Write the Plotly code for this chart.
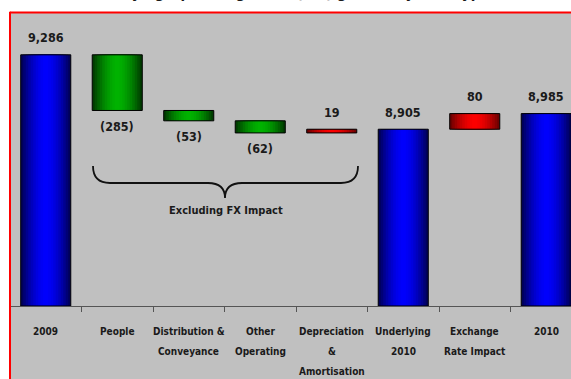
import plotly.graph_objects as go

# ---------------- data ----------------
categories = ["2009", "People", "Distribution & Conveyance", "Other Operating",
              "Depreciation & Amortisation", "Underlying 2010",
              "Exchange Rate Impact", "2010"]
category_lines = [["2009"], ["People"], ["Distribution &", "Conveyance"],
                  ["Other", "Operating"], ["Depreciation", "&", "Amortisation"],
                  ["Underlying", "2010"], ["Exchange", "Rate Impact"], ["2010"]]
values = [9286, -285, -53, -62, 19, 8905, 80, 8985]
kinds = ["total", "delta", "delta", "delta", "delta", "total", "delta", "total"]
value_labels = ["9,286", "(285)", "(53)", "(62)", "19", "8,905", "80", "8,985"]
title_text = "Underlying Operating Costs (£m) growth by cost type"
brace_text = "Excluding FX Impact"

# ---------------- geometry helpers ----------------
W, H = 571, 379
ML, MT, MR, MB = 10, 13, 0, 73
PW, PH = W - ML - MR, H - MT - MB
def px(x):
    return (x - ML) / PW
def py(y):
    return (H - MB - y) / PH

FONT = "DejaVu Sans Condensed, DejaVu Sans, sans-serif"
TXT = "#1a1a1a"

# compute floating bars
bases, heights, tops, bottoms = [], [], [], []
running = 0
for v, k in zip(values, kinds):
    if k == "total":
        b, h = 8000, v - 8000
        running = v
    else:
        b, h = running, v
        running += v
    bases.append(b)
    heights.append(h)
    tops.append(max(b, b + h))
    bottoms.append(min(b, b + h))

palette = {
    "blue": ((0, 0, 90), (0, 0, 255)),
    "green": ((0, 60, 0), (0, 180, 0)),
    "red": ((110, 0, 0), (255, 0, 0)),
}
def bar_color(v, k):
    if k == "total":
        return "blue"
    return "green" if v < 0 else "red"
col_names = [bar_color(v, k) for v, k in zip(values, kinds)]
idx = list(range(len(categories)))

fig = go.Figure()
BW = 0.70
N = 10
for i in range(N):
    f = 1 - i / N
    t = max(0.0, 1 - f ** 1.8)
    cols = []
    for c in col_names:
        e, m = palette[c]
        cols.append("rgb(%d,%d,%d)" % tuple(int(e[j] + (m[j] - e[j]) * t) for j in range(3)))
    fig.add_trace(go.Bar(x=categories, y=heights, base=bases, width=BW * f,
                         marker=dict(color=cols, line=dict(width=0)),
                         hoverinfo="skip", showlegend=False))
# outline
fig.add_trace(go.Bar(x=categories, y=heights, base=bases, width=BW,
                     marker=dict(color="rgba(0,0,0,0)", line=dict(color="#000", width=1)),
                     hoverinfo="skip", showlegend=False))

annotations = []
for i, lab, v, k, t, b in zip(idx, value_labels, values, kinds, tops, bottoms):
    below = (k == "delta" and v < 0)
    annotations.append(dict(x=i, y=b if below else t, xref="x", yref="y", text=lab,
                            showarrow=False, yshift=-16 if below else 17, yanchor="middle",
                            font=dict(family=FONT, size=12.5, color=TXT, weight="bold")))
line_ys = [331, 351, 371]
for i, lines in zip(idx, category_lines):
    for j, ln in enumerate(lines):
        annotations.append(dict(x=i, y=py(line_ys[j]), xref="x", yref="paper", text=ln,
                                showarrow=False, yanchor="middle",
                                font=dict(family=FONT, size=10, color=TXT, weight="bold")))
annotations.append(dict(x=px(226), y=py(210), xref="paper", yref="paper", text=brace_text,
                        showarrow=False, yanchor="middle",
                        font=dict(family=FONT, size=11, color=TXT, weight="bold")))
annotations.append(dict(x=px(285), y=py(4), xref="paper", yref="paper", text=title_text,
                        showarrow=False, yanchor="bottom",
                        font=dict(family=FONT, size=15, color=TXT, weight="bold")))

def P(x, y):
    return "%.5f,%.5f" % (px(x), py(y))
brace = ("M " + P(93, 166) + " Q " + P(93, 183) + " " + P(110, 183) + " L " + P(208, 183) +
         " Q " + P(225, 183) + " " + P(225, 198) + " Q " + P(225, 183) + " " + P(242, 183) +
         " L " + P(341, 183) + " Q " + P(358, 183) + " " + P(358, 166))

shapes = [
    dict(type="rect", xref="paper", yref="paper", x0=0, x1=1.02, y0=py(H + 5), y1=1,
         fillcolor="#C0C0C0", line=dict(width=0), layer="below"),
    dict(type="line", xref="paper", yref="paper", x0=0, x1=0, y0=py(H + 5), y1=1.004,
         line=dict(color="#FF0000", width=2)),
    dict(type="line", xref="paper", yref="paper", x0=0, x1=1.02, y0=1.002, y1=1.002,
         line=dict(color="#FF0000", width=2)),
    dict(type="path", xref="paper", yref="paper", path=brace,
         line=dict(color="#111", width=1.8)),
]

fig.update_layout(
    width=W, height=H, margin=dict(l=ML, r=MR, t=MT, b=MB),
    paper_bgcolor="white", plot_bgcolor="#C0C0C0",
    barmode="overlay", bargap=0.3,
    annotations=annotations, shapes=shapes,
    xaxis=dict(type="category", range=[-0.5, -0.5 + PW / 71.5], showgrid=False,
               showline=True, linecolor="#555", linewidth=1, ticks="outside",
               tickson="boundaries", ticklen=5, tickcolor="#555", showticklabels=False,
               zeroline=False, fixedrange=True),
    yaxis=dict(range=[8000, 9500], visible=False, showgrid=False, zeroline=False),
)
fig.write_html("out.html")
